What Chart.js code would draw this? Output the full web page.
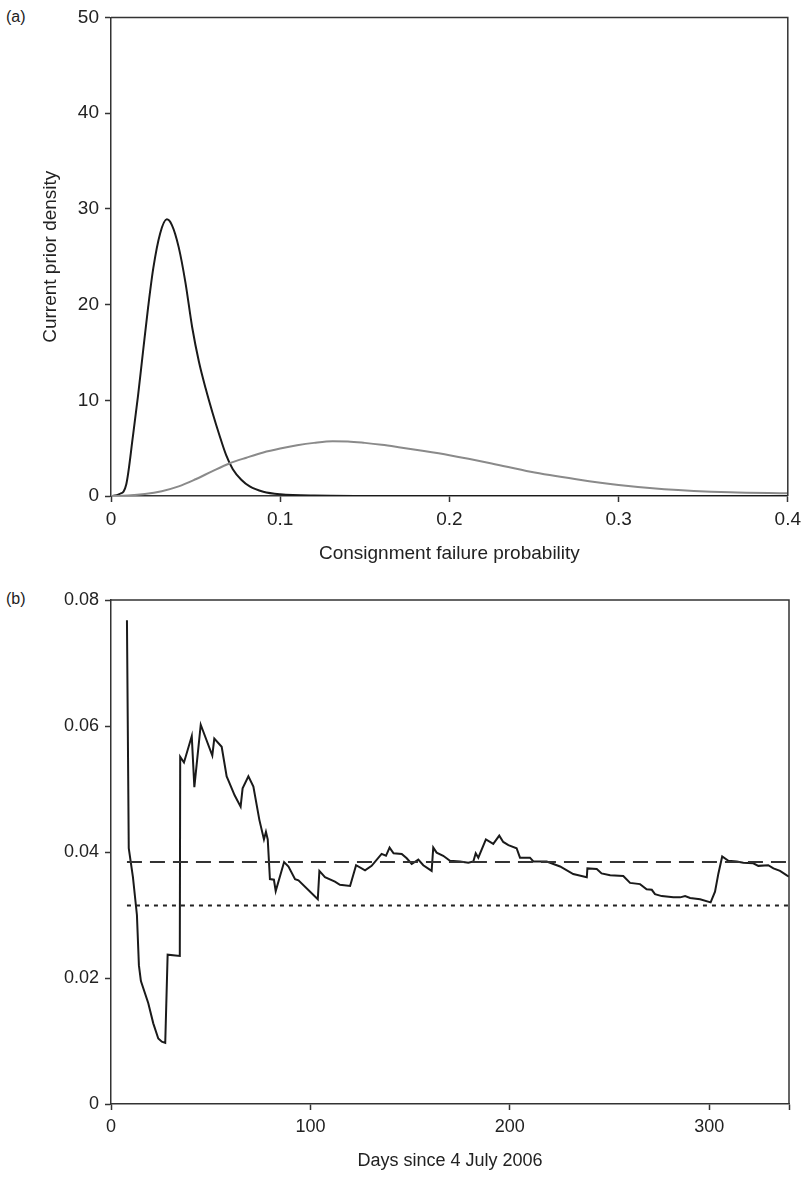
<!DOCTYPE html>
<html>
<head>
<meta charset="utf-8">
<script src="https://cdn.jsdelivr.net/npm/chart.js@4.4.1/dist/chart.umd.min.js"></script>
<style>
  body { margin: 0; background: #fff; width: 807px; height: 1178px; position: relative; overflow: hidden; }
  canvas { position: absolute; left: 0; }
  #chartA { top: 0; }
  #chartB { top: 580px; }
  .panel { position: absolute; left: 6px; font: 16px "Liberation Sans", Arial, sans-serif; color: #222; }
</style>
</head>
<body>
<div class="panel" style="top: 8px;">(a)</div>
<div class="panel" style="top: 590px;">(b)</div>
<canvas id="chartA" width="807" height="580"></canvas>
<canvas id="chartB" width="807" height="598"></canvas>
<script>
// --- Data: panel (a) prior densities ---
const narrowX = [0, 0.005, 0.009, 0.013, 0.016, 0.019, 0.022, 0.025, 0.029, 0.033, 0.036, 0.04, 0.044, 0.048, 0.052, 0.056, 0.06, 0.064, 0.068, 0.072, 0.077, 0.082, 0.09, 0.1, 0.12, 0.15, 0.2, 0.3, 0.4];
const narrowDensity = [0, 0.2, 1.2, 6.3, 10.5, 15.2, 19.8, 23.8, 27.4, 28.9, 28.3, 26.0, 22.3, 17.6, 14.0, 11.2, 8.7, 6.4, 4.3, 2.8, 1.7, 1.0, 0.45, 0.18, 0.04, 0.01, 0, 0, 0];

const wideX = [0, 0.01, 0.02, 0.03, 0.04, 0.05, 0.06, 0.07, 0.08, 0.09, 0.1, 0.11, 0.12, 0.131, 0.14, 0.15, 0.16, 0.17, 0.185, 0.2, 0.225, 0.248, 0.275, 0.3, 0.327, 0.366, 0.4];
const wideDensity = [0, 0.05, 0.2, 0.5, 1.0, 1.75, 2.6, 3.4, 4.0, 4.55, 4.96, 5.3, 5.55, 5.72, 5.7, 5.55, 5.35, 5.1, 4.7, 4.26, 3.4, 2.53, 1.75, 1.14, 0.7, 0.38, 0.28];

const densityTicksX = [0, 0.1, 0.2, 0.3, 0.4];
const densityTicksY = [0, 10, 20, 30, 40, 50];

// --- Data: panel (b) failure probability over time ---
const days = [8, 8.9, 11, 13, 14, 15, 18.7, 21.2, 23.7, 25.5, 27.2, 28.4, 34.5, 34.7, 36.6, 40.5, 41.8, 45, 50.8, 51.8, 55.5, 58, 58.8, 62, 65, 66, 68.9, 71.4, 74.4, 76.7, 77.7, 78.6, 79.7, 81.7, 82.6, 86.8, 89, 92.3, 94, 103.7, 104.5, 107.3, 112.3, 114.8, 119.9, 122.9, 127.4, 130.7, 135.7, 137.9, 139.7, 141.7, 145.8, 148.3, 150.8, 154.1, 156.6, 160.8, 161.6, 163.3, 166.6, 170, 175, 179.2, 181.7, 182.9, 184.2, 188, 191.7, 194.7, 196.7, 199.3, 203.4, 205.1, 210.1, 211.8, 218.5, 225.2, 231.8, 238.6, 238.9, 243.6, 246, 250.3, 256.9, 260.3, 265.3, 268.6, 271.2, 272.8, 276.2, 282, 285.4, 287.9, 290.4, 295.4, 300.7, 302.9, 304.6, 306.5, 309.6, 313.8, 317.1, 322.1, 324.6, 329.6, 332.2, 335.5, 338.9, 340];
const failureProb = [0.0768, 0.0406, 0.036, 0.030, 0.022, 0.0195, 0.016, 0.0128, 0.0104, 0.0099, 0.0097, 0.0237, 0.0235, 0.0551, 0.0542, 0.0584, 0.0503, 0.0602, 0.0553, 0.058, 0.0567, 0.052, 0.0514, 0.049, 0.0472, 0.0501, 0.052, 0.0504, 0.0451, 0.042, 0.0432, 0.042, 0.0357, 0.0356, 0.0338, 0.0384, 0.0377, 0.0357, 0.0355, 0.0325, 0.037, 0.036, 0.0353, 0.0348, 0.0346, 0.0379, 0.0371, 0.0378, 0.0397, 0.0394, 0.0407, 0.0398, 0.0397, 0.039, 0.0381, 0.0388, 0.0379, 0.037, 0.0407, 0.0399, 0.0394, 0.0386, 0.0385, 0.0383, 0.0385, 0.0398, 0.0391, 0.042, 0.0413, 0.0426, 0.0416, 0.0411, 0.0406, 0.0391, 0.0391, 0.0385, 0.0385, 0.0377, 0.0365, 0.036, 0.0374, 0.0373, 0.0366, 0.0363, 0.0362, 0.0351, 0.0349, 0.0341, 0.034, 0.0333, 0.033, 0.0328, 0.0328, 0.033, 0.0327, 0.0325, 0.032, 0.0337, 0.0366, 0.0393, 0.0386, 0.0385, 0.0383, 0.0382, 0.0378, 0.0379, 0.0374, 0.037, 0.0363, 0.0361];

const refDays = [8, 340];
const dashedLevel = [0.0384, 0.0384];
const dottedLevel = [0.0315, 0.0315];

const timeTicksX = [0, 100, 200, 300, 340];
const timeTicksY = [0, 0.02, 0.04, 0.06, 0.08];

// --- Helpers ---
const FONT = '"Liberation Sans", Arial, sans-serif';
const toPoints = (xs, ys) => xs.map((x, i) => ({ x: x, y: ys[i] }));

// draws the top and right edges of the plot box
const boxPlugin = {
    id: 'box',
    afterDatasetsDraw(chart) {
        const { ctx, chartArea: a } = chart;
        ctx.save();
        ctx.strokeStyle = '#333';
        ctx.lineWidth = 1.5;
        ctx.beginPath();
        ctx.moveTo(a.left, a.top);
        ctx.lineTo(a.right, a.top);
        ctx.lineTo(a.right, a.bottom);
        ctx.stroke();
        ctx.restore();
    }
};

function axis(opts) {
    const ticks = opts.ticks;
    return {
        type: 'linear',
        min: ticks[0],
        max: ticks[ticks.length - 1],
        afterBuildTicks: s => { s.ticks = ticks.map(v => ({ value: v })); },
        afterFit: s => { if (opts.horizontal) s.height = opts.fit; else s.width = opts.fit; },
        grid: { drawOnChartArea: false, drawTicks: true, tickLength: 6, color: '#333', tickWidth: 1.5 },
        border: { display: true, color: '#333', width: 1.5 },
        ticks: {
            autoSkip: false,
            maxRotation: 0,
            padding: 6,
            color: '#222',
            font: { family: FONT, size: opts.tickSize },
            callback: (v, i) => (opts.hideLast && i === ticks.length - 1) ? '' : String(v)
        },
        title: {
            display: !!opts.title,
            text: opts.title || '',
            color: '#222',
            font: { family: FONT, size: opts.titleSize || 16 },
            padding: opts.titlePad || 0
        }
    };
}

// --- Panel (a) ---
new Chart(document.getElementById('chartA').getContext('2d'), {
    type: 'scatter',
    data: {
        datasets: [
            {
                data: toPoints(wideX, wideDensity),
                showLine: true,
                borderColor: '#8a8a8a',
                borderWidth: 2,
                pointRadius: 0,
                cubicInterpolationMode: 'monotone'
            },
            {
                data: toPoints(narrowX, narrowDensity),
                showLine: true,
                borderColor: '#1a1a1a',
                borderWidth: 2,
                pointRadius: 0,
                cubicInterpolationMode: 'monotone'
            }
        ]
    },
    options: {
        responsive: false,
        animation: false,
        layout: { padding: { top: 15, right: 16, left: 0, bottom: 0 } },
        plugins: { legend: { display: false }, tooltip: { enabled: false } },
        scales: {
            x: axis({ ticks: densityTicksX, horizontal: true, fit: 84, tickSize: 19,
                      title: 'Consignment failure probability', titleSize: 19, titlePad: { top: 0, bottom: 15 } }),
            y: axis({ ticks: densityTicksY, fit: 111, tickSize: 19,
                      title: 'Current prior density', titleSize: 19, titlePad: { top: 39, bottom: 0 } })
        }
    },
    plugins: [boxPlugin]
});

// --- Panel (b) ---
new Chart(document.getElementById('chartB').getContext('2d'), {
    type: 'scatter',
    data: {
        datasets: [
            {
                data: toPoints(refDays, dashedLevel),
                showLine: true,
                borderColor: '#333',
                borderWidth: 2,
                borderDash: [15, 8],
                pointRadius: 0
            },
            {
                data: toPoints(refDays, dottedLevel),
                showLine: true,
                borderColor: '#222',
                borderWidth: 2,
                borderDash: [4, 5],
                pointRadius: 0
            },
            {
                data: toPoints(days, failureProb),
                showLine: true,
                borderColor: '#1a1a1a',
                borderWidth: 2,
                pointRadius: 0,
                tension: 0
            }
        ]
    },
    options: {
        responsive: false,
        animation: false,
        layout: { padding: { top: 20, right: 18, left: 0, bottom: 0 } },
        plugins: { legend: { display: false }, tooltip: { enabled: false } },
        scales: {
            x: axis({ ticks: timeTicksX, horizontal: true, fit: 74, tickSize: 18, hideLast: true,
                      title: 'Days since 4 July 2006', titleSize: 18, titlePad: { top: 0, bottom: 6 } }),
            y: axis({ ticks: timeTicksY, fit: 111, tickSize: 18 })
        }
    },
    plugins: [boxPlugin]
});
</script>
</body>
</html>
